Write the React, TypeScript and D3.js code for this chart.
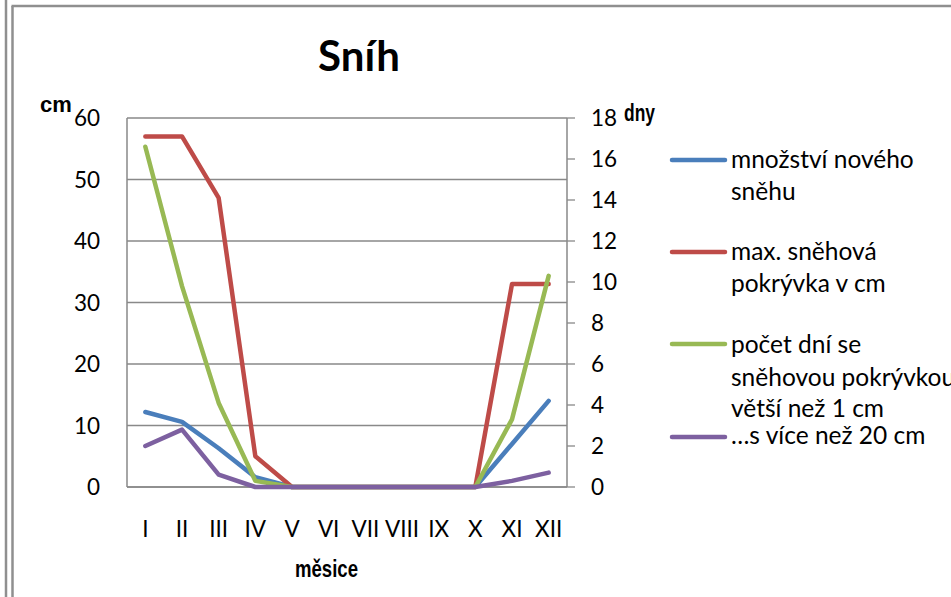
import React from "react";
import * as d3 from "d3";

const months = ["I", "II", "III", "IV", "V", "VI", "VII", "VIII", "IX", "X", "XI", "XII"];
const novySnih = [12.2, 10.6, 6.3, 1.6, 0, 0, 0, 0, 0, 0, 7.0, 14.0];
const maxPokryvka = [57, 57, 47, 5, 0, 0, 0, 0, 0, 0, 33, 33];
const dniPokryvka = [16.6, 9.8, 4.1, 0.3, 0, 0, 0, 0, 0, 0, 3.3, 10.3];
const dni20 = [2.0, 2.8, 0.6, 0, 0, 0, 0, 0, 0, 0, 0.3, 0.7];
const leftTicks = [0, 10, 20, 30, 40, 50, 60];
const rightTicks = [0, 2, 4, 6, 8, 10, 12, 14, 16, 18];

const seriesNames = [
  ["množství nového", "sněhu"],
  ["max. sněhová", "pokrývka v cm"],
  ["počet dní se", "sněhovou pokrývkou", "větší než 1 cm"],
  ["…s více než 20 cm"],
];
const seriesColors = ["#4A7EBB", "#BE4B48", "#98B954", "#7D60A0"];

const W = 951;
const H = 597;
const plot = { left: 127, right: 567, top: 118, bottom: 487 };
const FONT = "Lato, 'Open Sans', sans-serif";
const GRID = "#898989";

export default function App() {
  const x = d3.scaleBand<string>().domain(months).range([plot.left, plot.right]);
  const cx = (m: string) => (x(m) as number) + x.bandwidth() / 2;
  const yL = d3.scaleLinear().domain([0, 60]).range([plot.bottom, plot.top]);
  const yR = d3.scaleLinear().domain([0, 18]).range([plot.bottom, plot.top]);

  const lineL = d3
    .line<number>()
    .x((_, i) => cx(months[i]))
    .y((d) => yL(d));
  const lineR = d3
    .line<number>()
    .x((_, i) => cx(months[i]))
    .y((d) => yR(d));

  const series = [
    { values: novySnih, gen: lineL },
    { values: maxPokryvka, gen: lineL },
    { values: dniPokryvka, gen: lineR },
    { values: dni20, gen: lineR },
  ];

  const legendMarkerY = [160, 252, 344, 437];
  const legendBaselines = [
    [168, 200],
    [260, 292],
    [353, 386, 417],
    [444],
  ];

  return (
    <svg
      width={W}
      height={H}
      style={{ position: "absolute", left: 0, top: 0, background: "#fff" }}
      fontFamily={FONT}
    >
      <rect x={0} y={0} width={W} height={H} fill="#fff" />
      {/* frame */}
      <line x1={6} y1={0} x2={6} y2={H} stroke="#8f8f8f" strokeWidth={2.5} />
      <line x1={12.5} y1={6} x2={12.5} y2={H} stroke="#8f8f8f" strokeWidth={2.5} />
      <line x1={11.5} y1={6} x2={W} y2={6} stroke="#8f8f8f" strokeWidth={2.5} />

      {/* title */}
      <text x={359} y={71} textAnchor="middle" fontSize={42} fontWeight="bold" fill="#000">
        Sníh
      </text>

      {/* gridlines */}
      {leftTicks.map((t) => (
        <line
          key={"g" + t}
          x1={plot.left}
          x2={plot.right}
          y1={yL(t)}
          y2={yL(t)}
          stroke={GRID}
          strokeWidth={1.3}
        />
      ))}
      {/* axes */}
      <line x1={plot.left} x2={plot.left} y1={plot.top} y2={plot.bottom} stroke={GRID} strokeWidth={1.5} />
      <line x1={plot.right} x2={plot.right} y1={plot.top} y2={plot.bottom} stroke={GRID} strokeWidth={1.5} />
      <line x1={plot.left} x2={plot.right} y1={plot.bottom} y2={plot.bottom} stroke={GRID} strokeWidth={1.5} />

      {/* left tick labels */}
      {leftTicks.map((t) => (
        <text key={"l" + t} x={100} y={yL(t) + 8} textAnchor="end" fontSize={22.5} fill="#000">
          {t}
        </text>
      ))}
      {/* right ticks + labels */}
      {rightTicks.map((t) => (
        <g key={"r" + t}>
          <line x1={plot.right} x2={plot.right + 8} y1={yR(t)} y2={yR(t)} stroke={GRID} strokeWidth={1.3} />
          <text x={591} y={yR(t) + 8} textAnchor="start" fontSize={22.5} fill="#000">
            {t}
          </text>
        </g>
      ))}
      {/* x labels */}
      {months.map((m) => (
        <text key={"x" + m} x={cx(m)} y={537} textAnchor="middle" fontSize={22.5} fill="#000">
          {m}
        </text>
      ))}

      {/* axis titles */}
      <text x={40} y={112} fontSize={22} fontWeight="bold" fontFamily="'Liberation Sans', Arial, sans-serif" fill="#000">
        cm
      </text>
      <text
        x={624}
        y={121}
        fontSize={23}
        fontWeight="bold"
        fontFamily="'Liberation Sans', Arial, sans-serif"
        textLength={31}
        lengthAdjust="spacingAndGlyphs"
        fill="#000"
      >
        dny
      </text>
      <text
        x={295}
        y={577}
        fontSize={24}
        fontWeight="bold"
        fontFamily="'Liberation Sans', Arial, sans-serif"
        textLength={63}
        lengthAdjust="spacingAndGlyphs"
        fill="#000"
      >
        měsice
      </text>

      {/* series */}
      {series.map((s, i) => (
        <path
          key={"s" + i}
          d={s.gen(s.values) || ""}
          fill="none"
          stroke={seriesColors[i]}
          strokeWidth={4.5}
          strokeLinecap="round"
          strokeLinejoin="round"
        />
      ))}

      {/* legend */}
      {seriesNames.map((lines, i) => (
        <g key={"lg" + i}>
          <line
            x1={672}
            x2={725}
            y1={legendMarkerY[i]}
            y2={legendMarkerY[i]}
            stroke={seriesColors[i]}
            strokeWidth={4.5}
            strokeLinecap="round"
          />
          {lines.map((ln, j) => (
            <text key={j} x={731} y={legendBaselines[i][j]} fontSize={24.5} fill="#000">
              {ln}
            </text>
          ))}
        </g>
      ))}
    </svg>
  );
}
